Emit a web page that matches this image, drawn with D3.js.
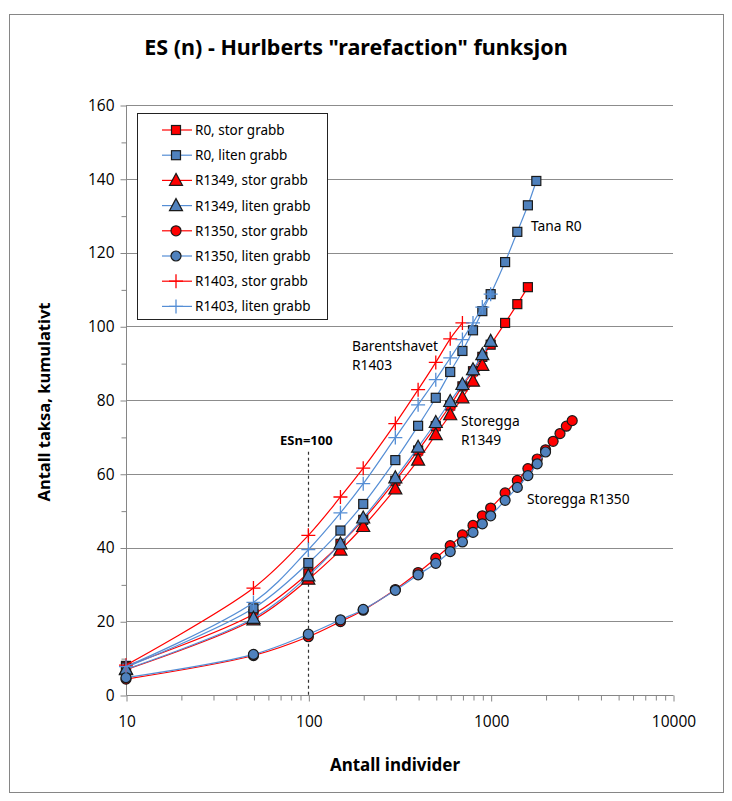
<!DOCTYPE html>
<html><head><meta charset="utf-8">
<script src="https://cdn.jsdelivr.net/npm/d3@7"></script>
<style>body{margin:0;background:#fff}svg{display:block}text{font-family:"Noto Sans","Open Sans",sans-serif;fill:#000}</style>
</head><body><div id="chart"></div>
<script>
// ---------- data ----------
const seriesNames = ["R0, stor grabb","R0, liten grabb","R1349, stor grabb","R1349, liten grabb","R1350, stor grabb","R1350, liten grabb","R1403, stor grabb","R1403, liten grabb"];
const nR0stor   = [10,50,100,150,200,300,400,500,600,700,800,900,1000,1200,1400,1600];
const vR0stor   = [7.9,21.9,33.0,41.0,47.5,58.1,66.3,72.9,78.5,83.7,87.8,91.7,95.0,100.9,106.0,110.6];
const nR0liten  = [10,50,100,150,200,300,400,500,600,700,800,900,1000,1200,1400,1600,1780];
const vR0liten  = [7.5,23.5,35.8,44.6,51.8,63.7,73.0,80.6,87.6,93.3,98.9,104.1,108.7,117.4,125.6,132.8,139.4];
const nR1349stor  = [10,50,100,150,200,300,400,500,600,700,800,900];
const vR1349stor  = [6.9,20.4,31.4,39.3,45.7,55.9,63.7,70.6,76.0,80.6,85.1,89.4];
const nR1349liten = [10,50,100,150,200,300,400,500,600,700,800,900,1000];
const vR1349liten = [7.0,20.8,32.3,41.0,48.0,58.9,67.2,73.9,79.6,84.2,88.2,92.3,95.9];
const nR1350stor  = [10,50,100,150,200,300,400,500,600,700,800,900,1000,1200,1400,1600,1800,2000,2200,2400,2600,2800];
const vR1350stor  = [4.3,10.7,15.8,19.9,23.0,28.6,33.2,37.1,40.5,43.4,46.0,48.6,50.7,54.8,58.2,61.4,64.0,66.5,68.8,70.9,72.9,74.4];
const nR1350liten = [10,50,100,150,200,300,400,500,600,700,800,900,1000,1200,1400,1600,1800,2000];
const vR1350liten = [4.7,11.0,16.5,20.4,23.2,28.4,32.6,35.7,38.9,41.5,44.1,46.4,48.6,52.8,56.3,59.5,62.7,65.9];
const nR1403stor  = [10,50,100,150,200,300,400,500,600,700];
const vR1403stor  = [8.1,29.0,43.3,53.7,61.5,73.6,82.8,90.2,96.6,100.9];
const nR1403liten = [10,50,100,150,200,300,400,500,600,700,800,900,1000];
const vR1403liten = [7.7,25.1,39.4,49.4,57.3,69.8,78.7,85.5,91.4,96.4,100.9,105.2,108.7];
const xTicks = [10,100,1000,10000];
const yTicks = [0,20,40,60,80,100,120,140,160];
const title = 'ES (n) - Hurlberts "rarefaction" funksjon';
const xTitle = "Antall individer";
const yTitle = "Antall taksa, kumulativt";
const esnValue = 100;

// ---------- styles ----------
const RED = "#FF0000", BLUE_LINE = "#558ED5", BLUE_FILL = "#4F81BD", EDGE = "#1a1a1a";
const series = [
  {n:nR0stor, v:vR0stor, line:RED, fill:RED, m:"square"},
  {n:nR0liten, v:vR0liten, line:BLUE_LINE, fill:BLUE_FILL, m:"square"},
  {n:nR1349stor, v:vR1349stor, line:RED, fill:RED, m:"triangle"},
  {n:nR1349liten, v:vR1349liten, line:BLUE_LINE, fill:BLUE_FILL, m:"triangle"},
  {n:nR1350stor, v:vR1350stor, line:RED, fill:RED, m:"circle"},
  {n:nR1350liten, v:vR1350liten, line:BLUE_LINE, fill:BLUE_FILL, m:"circle"},
  {n:nR1403stor, v:vR1403stor, line:RED, fill:RED, m:"plus"},
  {n:nR1403liten, v:vR1403liten, line:BLUE_LINE, fill:BLUE_FILL, m:"plus"}
];

const W = 732, H = 801;
const svg = d3.select("#chart").append("svg").attr("width", W).attr("height", H);
svg.append("rect").attr("x",9.5).attr("y",14.5).attr("width",714).attr("height",778)
  .attr("fill","#fff").attr("stroke","#868686").attr("stroke-width",1);

const x = d3.scaleLog().domain([10,10000]).range([126,673]);
const y = d3.scaleLinear().domain([0,160]).range([695,105]);

// gridlines
svg.append("g").selectAll("line").data(yTicks.filter(d=>d>0)).join("line")
  .attr("x1",x(10)).attr("x2",x(10000)).attr("y1",d=>Math.round(y(d))+0.5).attr("y2",d=>Math.round(y(d))+0.5)
  .attr("stroke","#8c8c8c").attr("stroke-width",1);

// y axis
const yAxis = svg.append("g").attr("transform",`translate(${x(10)+0.5},0.5)`)
  .call(d3.axisLeft(y).tickValues(yTicks).tickSize(6).tickPadding(6).tickFormat(d3.format("d")));
const yMinor = svg.append("g").attr("transform",`translate(${x(10)+0.5},0.5)`)
  .call(d3.axisLeft(y).tickValues(d3.range(10,160,20)).tickSize(5).tickFormat(""));
// x axis
const xAxis = svg.append("g").attr("transform",`translate(0.5,${Math.round(y(0))+0.5})`)
  .call(d3.axisBottom(x).tickValues(xTicks).tickSize(6).tickPadding(14).tickFormat(d3.format("d")));
const minorX = [];
[10,100,1000].forEach(b=>{for(let k=2;k<=9;k++)minorX.push(b*k);});
const xMinor = svg.append("g").attr("transform",`translate(0.5,${Math.round(y(0))+0.5})`)
  .call(d3.axisBottom(x).tickValues(minorX).tickSize(5).tickFormat(""));
[yAxis,yMinor,xAxis,xMinor].forEach(g=>{
  g.selectAll(".domain").attr("stroke","#868686").attr("stroke-width",1);
  g.selectAll(".tick line").attr("stroke","#868686");
  g.selectAll("text").style("font-size","15.5px").style("font-family",'"Open Sans","Noto Sans",sans-serif');
});
yMinor.select(".domain").remove(); xMinor.select(".domain").remove();
yAxis.select(".domain").attr("d",`M0,${y(0)}V${y(160)}`);
xAxis.select(".domain").attr("d",`M${x(10)},0H${x(10000)}`);

// dashed ESn line
svg.append("line").attr("x1",Math.round(x(esnValue))+0.5).attr("x2",Math.round(x(esnValue))+0.5)
  .attr("y1",y(66)).attr("y2",y(0)).attr("stroke","#333").attr("stroke-dasharray","3,3").attr("stroke-width",1.2);
svg.append("text").attr("x",x(esnValue)-2).attr("y",445).attr("text-anchor","middle")
  .style("font-weight","bold").style("font-size","13px").text("ESn=100");

// series
const lineGen = d3.line().x(d=>x(d[0])).y(d=>y(d[1])).curve(d3.curveCatmullRom.alpha(0.5));
function drawMarker(g, type, fill, stroke, cx, cy){
  if(type==="square"){
    g.append("rect").attr("x",cx-4.5).attr("y",cy-4.5).attr("width",9).attr("height",9)
      .attr("fill",fill).attr("stroke",stroke).attr("stroke-width",1.2);
  } else if(type==="triangle"){
    g.append("path").attr("d",`M${cx},${cy-7}L${cx+6.5},${cy+5}L${cx-6.5},${cy+5}Z`)
      .attr("fill",fill).attr("stroke",stroke).attr("stroke-width",1.2);
  } else if(type==="circle"){
    g.append("circle").attr("cx",cx).attr("cy",cy).attr("r",5)
      .attr("fill",fill).attr("stroke",stroke).attr("stroke-width",1.2);
  } else {
    g.append("path").attr("d",`M${cx-7},${cy}H${cx+7}M${cx},${cy-7}V${cy+7}`)
      .attr("fill","none").attr("stroke",fill).attr("stroke-width",1.3);
  }
}
series.forEach(s=>{
  const g = svg.append("g");
  const pts = s.n.map((n,i)=>[n,s.v[i]]);
  g.append("path").datum(pts).attr("d",lineGen).attr("fill","none").attr("stroke",s.line).attr("stroke-width",1.2);
  const col = s.m==="plus" ? s.line : s.fill;
  pts.forEach(p=>drawMarker(g, s.m, col, EDGE, x(p[0]), y(p[1])));
});

// annotations
const ann = [["Tana  R0",531,231],["Barentshavet",352,351],["R1403",352,370],["Storegga",461,426],["R1349",461,445],["Storegga R1350",527,504]];
svg.append("g").selectAll("text").data(ann).join("text").attr("x",d=>d[1]).attr("y",d=>d[2])
  .style("font-size","13.8px").text(d=>d[0]);

// legend
const lg = svg.append("g");
lg.append("rect").attr("x",137.5).attr("y",113.5).attr("width",190).attr("height",206)
  .attr("fill","#fff").attr("stroke","#222").attr("stroke-width",1);
series.forEach((s,i)=>{
  const cy = 130 + i*25.2;
  lg.append("line").attr("x1",162).attr("x2",192).attr("y1",cy).attr("y2",cy).attr("stroke",s.line).attr("stroke-width",1.2);
  const col = s.m==="plus" ? s.line : s.fill;
  drawMarker(lg, s.m, col, EDGE, 176, cy);
  lg.append("text").attr("x",195).attr("y",cy+5).style("font-size","13.5px").text(seriesNames[i]);
});

// titles
svg.append("text").attr("x",356).attr("y",55).attr("text-anchor","middle")
  .style("font-weight","bold").style("font-size","21.5px").text(title);
svg.append("text").attr("x",395).attr("y",771).attr("text-anchor","middle")
  .style("font-weight","bold").style("font-size","17px").text(xTitle);
svg.append("text").attr("transform","translate(50,402) rotate(-90)").attr("text-anchor","middle")
  .style("font-weight","bold").style("font-size","16.5px").text(yTitle);
</script></body></html>
